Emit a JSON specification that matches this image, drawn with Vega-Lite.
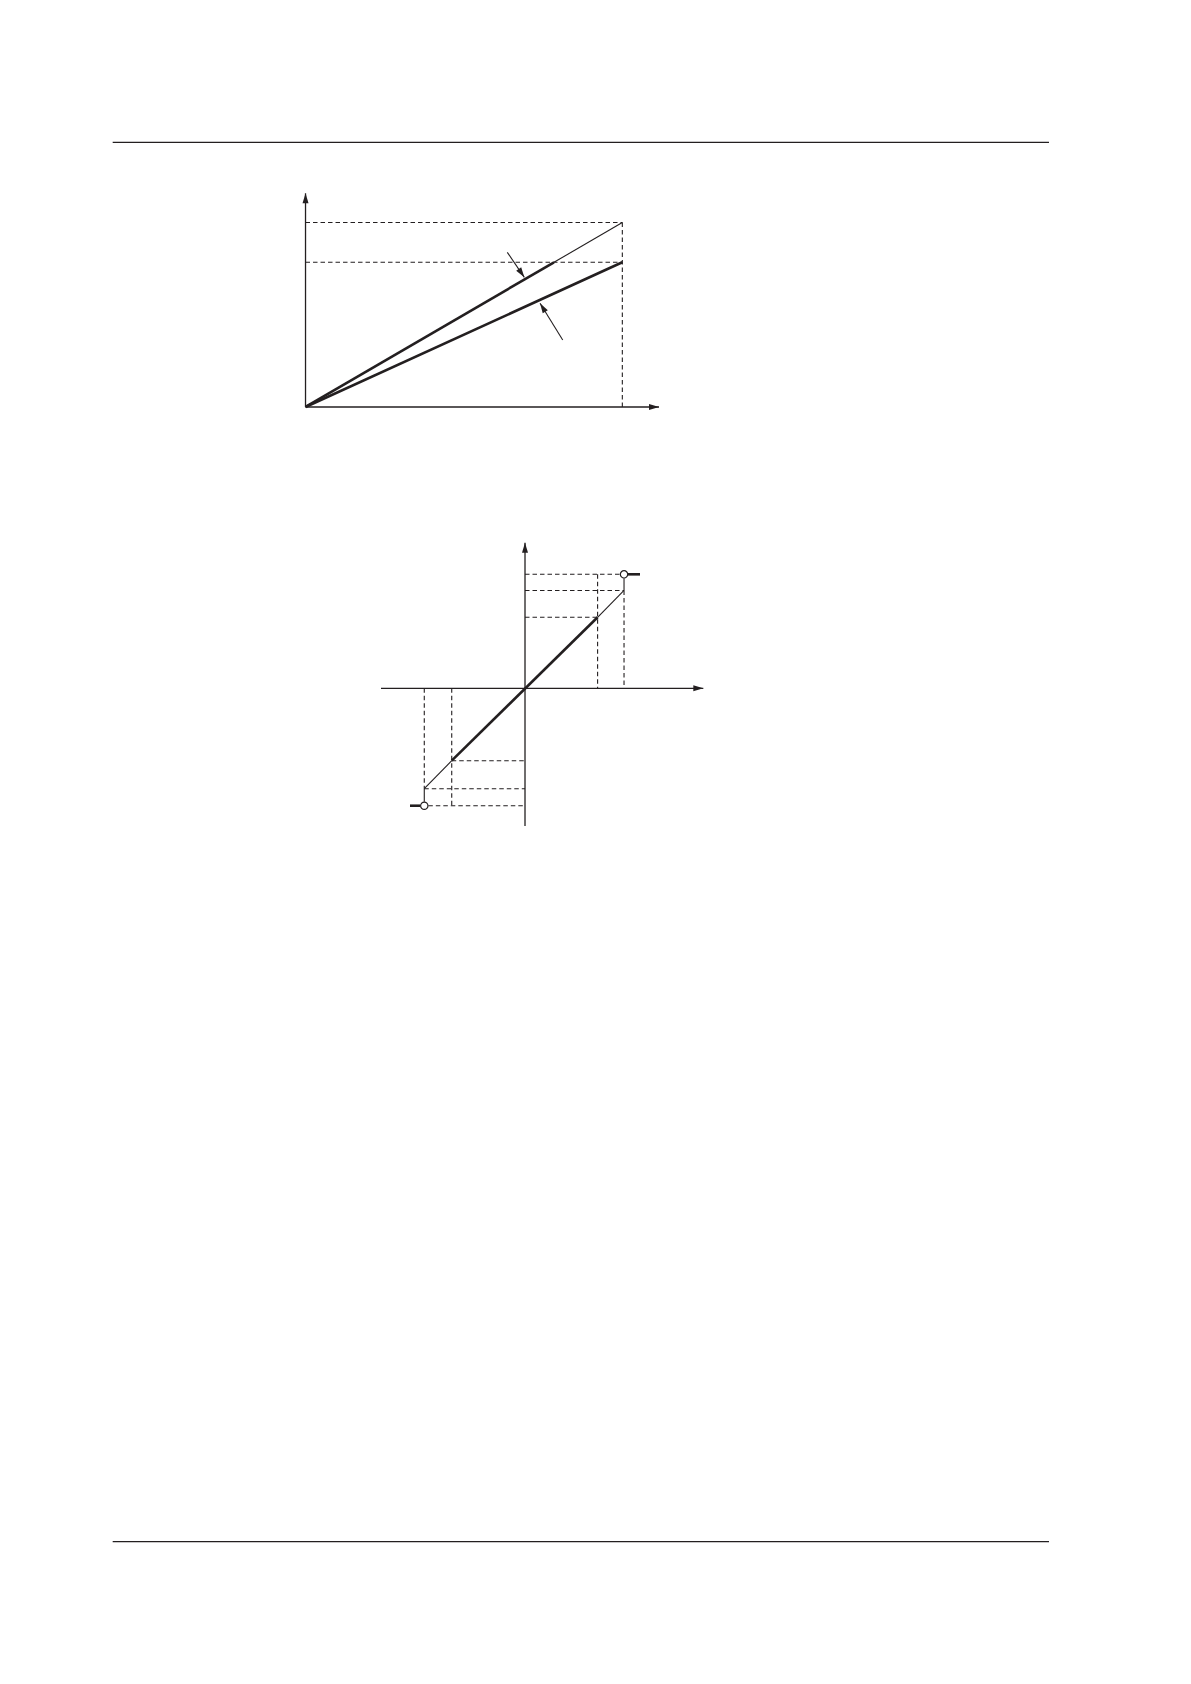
{
  "$schema": "https://vega.github.io/schema/vega-lite/v6.json",
  "width": 1191,
  "height": 1684,
  "autosize": {"type": "fit", "contains": "padding"},
  "padding": 0,
  "background": "white",
  "config": {"view": {"stroke": null}},
  "datasets": {
    "pageRules": [
      {"part": "header", "x": 19.87, "y": 25.10, "x2": 184.96, "y2": 25.10},
      {"part": "footer", "x": 19.87, "y": 271.90, "x2": 184.96, "y2": 271.90}
    ],
    "axes": [
      {"part": "A vertical", "x": 53.87, "y": 71.78, "x2": 53.87, "y2": 34.09},
      {"part": "A horizontal", "x": 53.87, "y": 71.78, "x2": 116.20, "y2": 71.78},
      {"part": "B vertical", "x": 92.57, "y": 145.68, "x2": 92.57, "y2": 95.71},
      {"part": "B horizontal", "x": 67.18, "y": 121.39, "x2": 124.01, "y2": 121.39}
    ],
    "dashed": [
      {"part": "A full output", "x": 53.87, "y": 39.24, "x2": 109.73, "y2": 39.24},
      {"part": "A reduced output", "x": 53.87, "y": 46.26, "x2": 109.73, "y2": 46.26},
      {"part": "A full input", "x": 109.73, "y": 39.24, "x2": 109.73, "y2": 71.78},
      {"part": "B +sat", "x": 92.57, "y": 101.29, "x2": 109.32, "y2": 101.29},
      {"part": "B +max", "x": 92.57, "y": 104.14, "x2": 110.03, "y2": 104.14},
      {"part": "B +lin", "x": 92.57, "y": 108.87, "x2": 105.37, "y2": 108.87},
      {"part": "B +lin in", "x": 105.37, "y": 101.29, "x2": 105.37, "y2": 121.39},
      {"part": "B +max in", "x": 110.03, "y": 104.14, "x2": 110.03, "y2": 121.39},
      {"part": "B -lin", "x": 79.65, "y": 134.16, "x2": 92.57, "y2": 134.16},
      {"part": "B -max", "x": 74.81, "y": 139.10, "x2": 92.57, "y2": 139.10},
      {"part": "B -sat", "x": 75.52, "y": 142.10, "x2": 92.57, "y2": 142.10},
      {"part": "B -max in", "x": 74.81, "y": 121.39, "x2": 74.81, "y2": 139.10},
      {"part": "B -lin in", "x": 79.65, "y": 121.39, "x2": 79.65, "y2": 142.10}
    ],
    "thin": [
      {"part": "A ideal upper", "x": 97.68, "y": 46.26, "x2": 109.73, "y2": 39.24},
      {"part": "A leader 1", "x": 89.45, "y": 44.50, "x2": 92.45, "y2": 48.91},
      {"part": "A leader 2", "x": 99.22, "y": 59.96, "x2": 95.22, "y2": 53.49},
      {"part": "B + step", "x": 110.03, "y": 101.99, "x2": 110.03, "y2": 104.14},
      {"part": "B + outer", "x": 110.03, "y": 104.14, "x2": 105.37, "y2": 108.87},
      {"part": "B - outer", "x": 79.65, "y": 134.16, "x2": 74.81, "y2": 139.10},
      {"part": "B - step", "x": 74.81, "y": 139.10, "x2": 74.81, "y2": 141.39}
    ],
    "thick": [
      {"part": "A ideal", "x": 53.87, "y": 71.78, "x2": 97.68, "y2": 46.26},
      {"part": "A actual", "x": 53.87, "y": 71.78, "x2": 109.73, "y2": 46.26},
      {"part": "B linear", "x": 105.37, "y": 108.87, "x2": 79.65, "y2": 134.16},
      {"part": "B + tick", "x": 110.73, "y": 101.29, "x2": 112.85, "y2": 101.29},
      {"part": "B - tick", "x": 72.29, "y": 142.10, "x2": 74.11, "y2": 142.10}
    ],
    "arrowheads": [
      {"part": "A y", "x": 53.87, "y": 34.09, "dir": 0},
      {"part": "A x", "x": 116.20, "y": 71.78, "dir": 90},
      {"part": "A leader 1", "x": 92.45, "y": 48.91, "dir": 145.8},
      {"part": "A leader 2", "x": 95.22, "y": 53.49, "dir": 328.3},
      {"part": "B y", "x": 92.57, "y": 95.71, "dir": 0},
      {"part": "B x", "x": 124.01, "y": 121.39, "dir": 90}
    ],
    "circles": [
      {"part": "B + open", "x": 110.03, "y": 101.29},
      {"part": "B - open", "x": 74.81, "y": 142.10}
    ]
  },
  "layer": [
    {
      "data": {"name": "pageRules"},
      "mark": {"type": "rule", "color": "#231f20", "strokeWidth": 1.3},
      "encoding": {
        "x": {"field": "x", "type": "quantitative", "scale": {"domain": [0, 210], "nice": false, "zero": false}, "axis": null},
        "y": {"field": "y", "type": "quantitative", "scale": {"domain": [0, 297], "nice": false, "zero": false, "reverse": true}, "axis": null},
        "x2": {"field": "x2"},
        "y2": {"field": "y2"}
      }
    },
    {
      "data": {"name": "dashed"},
      "mark": {"type": "rule", "color": "#231f20", "strokeWidth": 1.1, "strokeDash": [4.5, 3]},
      "encoding": {
        "x": {"field": "x", "type": "quantitative", "scale": {"domain": [0, 210], "nice": false, "zero": false}, "axis": null},
        "y": {"field": "y", "type": "quantitative", "scale": {"domain": [0, 297], "nice": false, "zero": false, "reverse": true}, "axis": null},
        "x2": {"field": "x2"},
        "y2": {"field": "y2"}
      }
    },
    {
      "data": {"name": "axes"},
      "mark": {"type": "rule", "color": "#231f20", "strokeWidth": 1.3},
      "encoding": {
        "x": {"field": "x", "type": "quantitative", "scale": {"domain": [0, 210], "nice": false, "zero": false}, "axis": null},
        "y": {"field": "y", "type": "quantitative", "scale": {"domain": [0, 297], "nice": false, "zero": false, "reverse": true}, "axis": null},
        "x2": {"field": "x2"},
        "y2": {"field": "y2"}
      }
    },
    {
      "data": {"name": "thin"},
      "mark": {"type": "rule", "color": "#231f20", "strokeWidth": 1.1},
      "encoding": {
        "x": {"field": "x", "type": "quantitative", "scale": {"domain": [0, 210], "nice": false, "zero": false}, "axis": null},
        "y": {"field": "y", "type": "quantitative", "scale": {"domain": [0, 297], "nice": false, "zero": false, "reverse": true}, "axis": null},
        "x2": {"field": "x2"},
        "y2": {"field": "y2"}
      }
    },
    {
      "data": {"name": "thick"},
      "mark": {"type": "rule", "color": "#231f20", "strokeWidth": 2.6},
      "encoding": {
        "x": {"field": "x", "type": "quantitative", "scale": {"domain": [0, 210], "nice": false, "zero": false}, "axis": null},
        "y": {"field": "y", "type": "quantitative", "scale": {"domain": [0, 297], "nice": false, "zero": false, "reverse": true}, "axis": null},
        "x2": {"field": "x2"},
        "y2": {"field": "y2"}
      }
    },
    {
      "data": {"name": "arrowheads"},
      "mark": {"type": "point", "shape": "M0,0L0.3,1L-0.3,1Z", "filled": true, "size": 400, "color": "#231f20", "opacity": 1, "strokeWidth": 0},
      "encoding": {
        "x": {"field": "x", "type": "quantitative", "scale": {"domain": [0, 210], "nice": false, "zero": false}, "axis": null},
        "y": {"field": "y", "type": "quantitative", "scale": {"domain": [0, 297], "nice": false, "zero": false, "reverse": true}, "axis": null},
        "angle": {"field": "dir", "type": "quantitative", "scale": null}
      }
    },
    {
      "data": {"name": "circles"},
      "mark": {"type": "point", "shape": "circle", "filled": false, "fill": "white", "stroke": "#231f20", "strokeWidth": 1.2, "size": 54, "opacity": 1, "fillOpacity": 1},
      "encoding": {
        "x": {"field": "x", "type": "quantitative", "scale": {"domain": [0, 210], "nice": false, "zero": false}, "axis": null},
        "y": {"field": "y", "type": "quantitative", "scale": {"domain": [0, 297], "nice": false, "zero": false, "reverse": true}, "axis": null}
      }
    }
  ]
}
